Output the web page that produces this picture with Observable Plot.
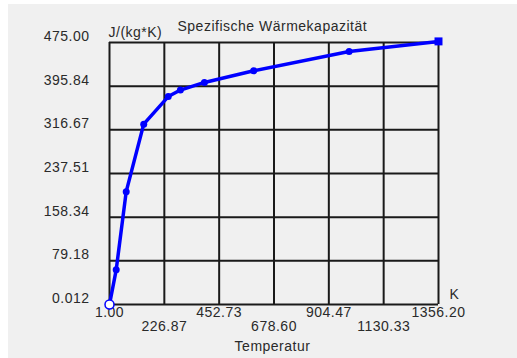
<!DOCTYPE html>
<html>
<head>
<meta charset="utf-8">
<script src="https://cdn.jsdelivr.net/npm/d3@7"></script>
<script src="https://cdn.jsdelivr.net/npm/@observablehq/plot@0.6"></script>
<style>
  html, body { margin: 0; padding: 0; background: #ffffff; }
  #wrap { position: absolute; left: 8px; top: 4px; width: 509px; height: 354px; background: #f0f0f0; overflow: hidden; }
</style>
</head>
<body>
<div id="wrap"></div>
<script>
// Data
const temperature = [1, 28.6, 69.8, 142, 243, 293, 392, 595, 988, 1356.2];
const heatCapacity = [0.012, 62.8, 204.6, 327, 377, 388.8, 402.6, 423.7, 458.7, 477];

const xTickValues = [1, 226.87, 452.73, 678.60, 904.47, 1130.33, 1356.20];
const xTickLabels = ["1.00", "226.87", "452.73", "678.60", "904.47", "1130.33", "1356.20"];
const yTickValues = [0.012, 79.18, 158.34, 237.51, 316.67, 395.84, 475.00];
const yTickLabels = ["0.012", "79.18", "158.34", "237.51", "316.67", "395.84", "475.00"];

const titleText = "Spezifische Wärmekapazität";
const yUnit = "J/(kg*K)";
const xUnit = "K";
const xTitle = "Temperatur";

const data = temperature.map((t, i) => ({t, c: heatCapacity[i]}));
const xEven = xTickValues.filter((d, i) => i % 2 === 0);
const xOdd = xTickValues.filter((d, i) => i % 2 === 1);
const xLab = new Map(xTickValues.map((v, i) => [v, xTickLabels[i]]));
const yLab = new Map(yTickValues.map((v, i) => [v, yTickLabels[i]]));

const font = "'Liberation Sans', Arial, sans-serif";
const txtColor = "#2a2a2a";

const chart = Plot.plot({
  width: 509,
  height: 354,
  marginLeft: 101,
  marginRight: 79,
  marginTop: 38,
  marginBottom: 54,
  style: { background: "transparent", fontFamily: font, fontSize: "14px", color: txtColor, letterSpacing: "0.5px" },
  x: { domain: [1, 1356.2] },
  y: { domain: [0.012, 475] },
  marks: [
    Plot.ruleX(xTickValues, { stroke: "#1a1a1a", strokeWidth: 2 }),
    Plot.ruleY(yTickValues, { stroke: "#1a1a1a", strokeWidth: 2 }),
    Plot.axisY(yTickValues, { ticks: yTickValues, tickSize: 0, tickPadding: 20, dy: -6, tickFormat: d => yLab.get(d), label: null, fontSize: 14, fill: txtColor }),
    Plot.axisX(xEven, { ticks: xEven, tickSize: 0, tickPadding: 3, tickFormat: d => xLab.get(d), label: null, fontSize: 14, fill: txtColor }),
    Plot.axisX(xOdd, { ticks: xOdd, tickSize: 0, tickPadding: 17, tickFormat: d => xLab.get(d), label: null, fontSize: 14, fill: txtColor }),
    Plot.line(data, { x: "t", y: "c", stroke: "#0000ff", strokeWidth: 3.5 }),
    Plot.dot(data.slice(1, -1), { x: "t", y: "c", r: 3.5, fill: "#0000ff", stroke: "none" }),
    Plot.dot(data.slice(-1), { x: "t", y: "c", r: 4.5, symbol: "square", fill: "#0000ff", stroke: "none" }),
    Plot.dot(data.slice(0, 1), { x: "t", y: "c", r: 4.5, fill: "#ffffff", stroke: "#0000ff", strokeWidth: 1.5 }),
    Plot.text([titleText], { frameAnchor: "top-left", dx: 68, dy: -21, textAnchor: "start", fontSize: 14, fill: txtColor }),
    Plot.text([yUnit], { frameAnchor: "top-left", dx: -1, dy: -15, textAnchor: "start", fontSize: 14, fill: txtColor }),
    Plot.text([xUnit], { frameAnchor: "bottom-right", dx: 11, dy: -6, textAnchor: "start", fontSize: 14, fill: txtColor }),
    Plot.text([xTitle], { frameAnchor: "bottom", dx: -1.5, dy: 46, fontSize: 14, fill: txtColor })
  ]
});
document.getElementById("wrap").appendChild(chart);
</script>
</body>
</html>
